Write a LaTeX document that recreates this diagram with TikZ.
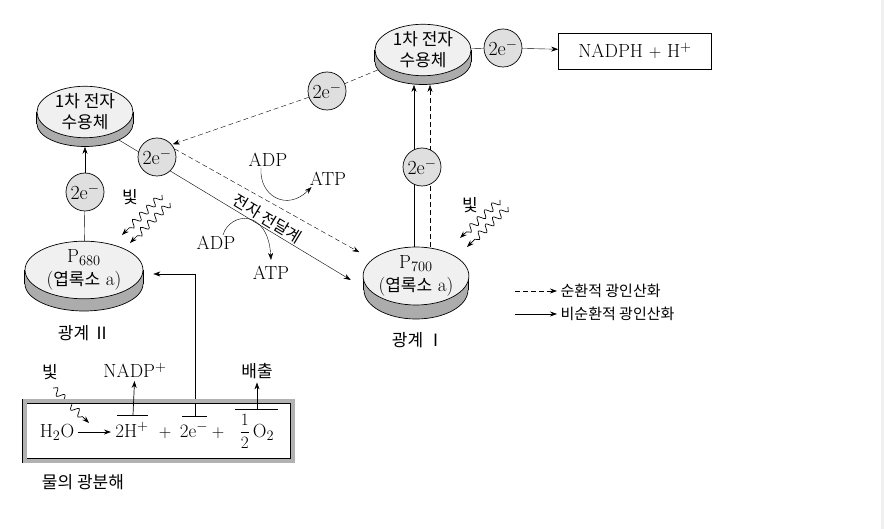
\documentclass[tikz,border=0pt]{standalone}
\usepackage{fontspec}
\newfontfamily\kr{Noto Sans CJK KR}
\newcommand{\kor}[1]{{\kr\fontsize{17}{20}\selectfont #1}}
\usetikzlibrary{arrows.meta, shapes.geometric, decorations.pathmorphing, backgrounds}

\begin{document}
\begin{tikzpicture}[x=1pt, y=-1pt, line width=0.7pt,
    font=\fontsize{19}{23}\selectfont,
    >={Stealth[length=7pt, width=5pt]},
    face/.style={ellipse, draw, fill=gray!12, inner sep=0pt, align=center},
    side/.style={ellipse, draw, fill=gray!65, inner sep=0pt},
    accsize/.style={minimum width=96pt, minimum height=45pt},
    p2size/.style={minimum width=118pt, minimum height=54pt},
    p1size/.style={minimum width=104pt, minimum height=58pt},
    carrier/.style={circle, draw, fill=gray!25, minimum size=38pt, inner sep=0pt, font=\fontsize{20}{22}\selectfont},
    chem/.style={inner sep=1pt},
    ko/.style={font=\kr\fontsize{17}{21}\selectfont},
    lgtext/.style={font=\kr\fontsize{15}{18}\selectfont, anchor=west},
    cyc/.style={->, dash pattern=on 5pt off 3pt},
    light/.style={->, decorate, decoration={snake, amplitude=3.5pt, segment length=10pt, post length=7pt}},
  ]
  \useasboundingbox (0,0) rectangle (884,529);
  \fill[gray!12] (881,0) rectangle (884,529);

  % photosystem II
  \node[side, accsize] (acc1b) at (85,124) {};
  \fill[gray!65] (acc1b.west) rectangle ([yshift=12pt]acc1b.east);
  \draw (acc1b.west) -- ++(0,-12) (acc1b.east) -- ++(0,-12);
  \node[face, accsize, ko] (acc1) at (85,112) {1차 전자\\수용체};

  \node[side, p2size] (p680b) at (84,284) {};
  \fill[gray!65] (p680b.west) rectangle ([yshift=14pt]p680b.east);
  \draw (p680b.west) -- ++(0,-14) (p680b.east) -- ++(0,-14);
  \node[face, p2size] (p680) at (84,270) {$\mathrm{P}_{680}$\\(\kor{엽록소} a)};
  \node[ko] (ps2) at (84,333) {광계 Ⅱ};

  \node[carrier] (c1) at (85,192) {2e$^-$};
  \node[carrier] (c2) at (157,157) {2e$^-$};
  \node[carrier] (c3) at (327,91) {2e$^-$};

  % photosystem I
  \node[side, p1size] (p700b) at (416,290) {};
  \fill[gray!65] (p700b.west) rectangle ([yshift=14pt]p700b.east);
  \draw (p700b.west) -- ++(0,-14) (p700b.east) -- ++(0,-14);
  \node[face, p1size] (p700) at (416,276) {$\mathrm{P}_{700}$\\(\kor{엽록소} a)};
  \node[ko] (ps1) at (418,340) {광계 Ⅰ};

  \node[side, accsize] (acc2b) at (423,62) {};
  \fill[gray!65] (acc2b.west) rectangle ([yshift=12pt]acc2b.east);
  \draw (acc2b.west) -- ++(0,-12) (acc2b.east) -- ++(0,-12);
  \node[face, accsize, ko] (acc2) at (423,50) {1차 전자\\수용체};

  \node[carrier] (c4) at (422,167) {2e$^-$};
  \node[carrier] (c5) at (503,48) {2e$^-$};
  \node[draw, minimum width=153pt, minimum height=36pt] (nadph) at (635,51) {NADPH $+$ H$^+$};

  % light
  \node[ko] (lt1) at (130,197) {빛};
  \node[ko] (lt2) at (470,205) {빛};
  \node[ko] (lt3) at (50,372) {빛};
  \draw[light] ([shift={(32,-2)}]lt1.center) -- ++(-40,40);
  \draw[light] ([shift={(40,6)}]lt1.center) -- ++(-40,40);
  \draw[light] ([shift={(30,-5)}]lt2.center) -- ++(-40,38);
  \draw[light] ([shift={(38,2)}]lt2.center) -- ++(-41,40);
  \draw[light] ([shift={(3,16)}]lt3.center) -- ++(36,35);

  % ATP synthesis
  \node[chem] (adp1) at (268,160) {ADP};
  \node[chem] (atp1) at (328,179) {ATP};
  \node[chem] (adp2) at (216,243) {ADP};
  \node[chem] (atp2) at (271,273) {ATP};

  % water splitting
  \node[draw, double=gray!60, double distance=4pt, minimum width=268pt, minimum height=59pt] (wbox) at (158.5,431) {};
  \node[chem, anchor=base] (h2o) at (57,437) {H$_2$O};
  \node[chem, anchor=base] (hion) at (132,437) {2H$^+$};
  \node[chem, anchor=base] (pl1) at (165,437) {$+$};
  \node[chem, anchor=base] (eion) at (194,437) {2e$^-$};
  \node[chem, anchor=base] (pl2) at (218,437) {$+$};
  \node[chem, anchor=base] (oxy) at (257,437) {${\displaystyle\frac{1}{2}}\,$O$_2$};
  \draw[->, shorten <=2pt, shorten >=3pt] (h2o.east) -- (h2o.east -| hion.west);
  \draw (117,415) -- (148,415) (182,416) -- (207,416) (235,409) -- (278,409);
  \coordinate (hbar) at (133,415);
  \coordinate (ebar) at (195,416);
  \coordinate (obar) at (257,409);
  \node (nadp) at (135,370) {NADP$^+$};
  \node[ko] (vent) at (257,371) {배출};
  \node[ko] (wlbl) at (83,482) {물의 광분해};
  \draw[->] (hbar) -- (nadp);
  \draw[->] (obar) -- (vent);

  % legend
  \coordinate (lg1) at (515,291);
  \coordinate (lg2) at (515,314);
  \draw[cyc] (lg1) -- ++(42,0) node[lgtext] (lgc) {순환적 광인산화};
  \draw[->] (lg2) -- ++(42,0) node[lgtext] (lgn) {비순환적 광인산화};

  \begin{scope}[on background layer]
    \draw[->] (c1) -- (acc1b.south);
    \draw (p680) -- (c1);
    \draw[->] (acc1b.south east) -- node[sloped, above, pos=0.62, inner sep=2pt, font=\kr\fontsize{16}{20}\selectfont] (etc) {전자 전달계} ([xshift=-12pt,yshift=-4pt]p700.west);
    \draw[cyc] (c2.25) -- ([xshift=-19pt,yshift=3pt]p700.north west);
    \draw[dash pattern=on 5pt off 3pt] (acc2b.190) -- (c3);
    \draw[cyc, shorten >=1pt] (c3) -- (c2.40);
    \coordinate (sL) at (414,0);
    \coordinate (sR) at (430,0);
    \draw[->] (p700.north -| sL) -- (acc2b.south -| sL);
    \draw[cyc] (p700.north -| sR) -- (acc2b.south -| sR);
    \draw (acc2) -- (c5);
    \draw[->] (c5) -- (nadph);
    \draw[->] ([xshift=-7pt]adp1.south) .. controls (259,196) and (287,212) .. ([xshift=3pt]atp1.south west);
    \draw[->] ([xshift=7pt]adp2.north) .. controls (230,212) and (268,208) .. ([yshift=5pt]atp2.north);
    \draw[->] (ebar) |- ([xshift=10pt,yshift=-4pt]p680.east);
  \end{scope}
\end{tikzpicture}
\end{document}
